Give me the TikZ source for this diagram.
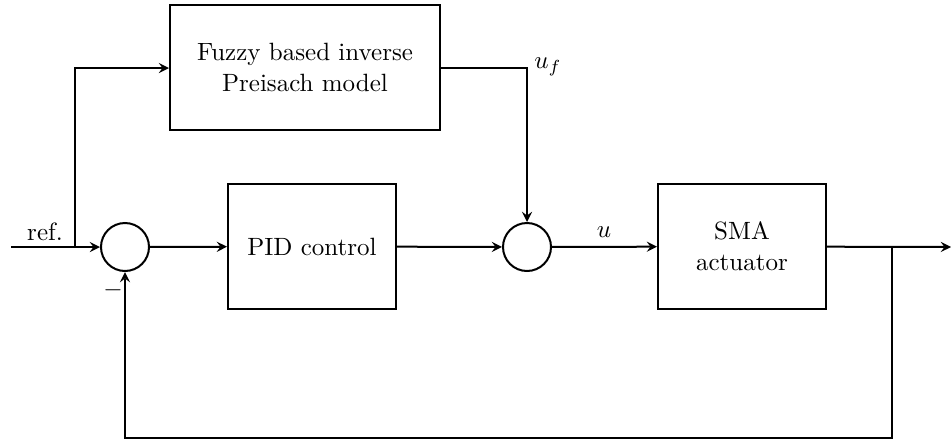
\documentclass[tikz,border=0pt]{standalone}
\usepackage{amsmath,amssymb}
\usetikzlibrary{shapes,arrows,positioning,calc}

\tikzset{
    block/.style={draw, thick, rectangle, minimum width=67.2pt, minimum height=50pt, inner sep=0pt, align=center},
    sumnode/.style={draw, thick, circle, minimum size=19.2pt, inner sep=0pt},
    sig/.style={->, >=stealth, thick}
}

\begin{document}
\begin{tikzpicture}[x=0.4pt, y=-0.4pt]
    \useasboundingbox (0,0) rectangle (951,440);

    % blocks
    \node[block, minimum width=108pt] (fuzzy) at (305,67.5) {Fuzzy based inverse\\[0.5pt]Preisach model};
    \node[block] (pid) at (312,246.5) {PID control};
    \node[block] (sma) at (742,246.5) {SMA\\[0.5pt]actuator};

    % summing junctions
    \node[sumnode] (sum1) at (125,247) {};
    \node[sumnode] (sum2) at (527,247) {};

    % helper points
    \coordinate (in) at (11,247);
    \coordinate (split) at (75,247);
    \coordinate (fb) at (892,247);
    \coordinate (out) at (951,247);

    % signals
    \draw[sig] (in) -- (sum1);
    \draw[sig] (split) |- (fuzzy.west |- 0,68);
    \draw[sig] (sum1) -- (pid);
    \draw[sig] (pid) -- (sum2);
    \draw[sig] (fuzzy.east |- 0,68) -| (sum2);
    \draw[sig] (sum2) -- (sma);
    \draw[sig] (sma) -- (out);
    \draw[sig] (fb) |- (125,438) -- (sum1);

    % labels
    \node at (45,232) {ref.};
    \node at (113,290) {$-$};
    \node at (548,67) {$u_f$};
    \node at (604,232) {$u$};
\end{tikzpicture}
\end{document}
